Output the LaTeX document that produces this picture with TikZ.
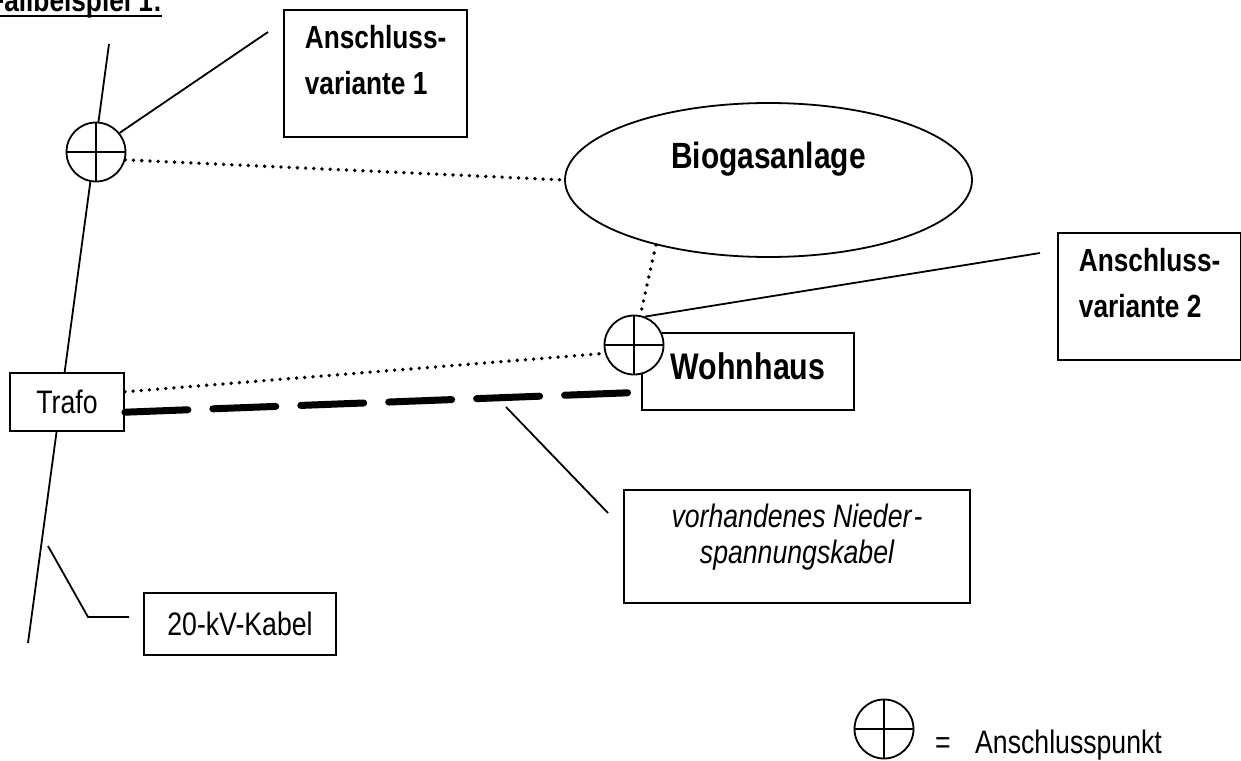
\documentclass[tikz,border=0pt]{standalone}
\usepackage{fontspec}
\setmainfont{Liberation Sans}[FakeStretch=0.82]
\usetikzlibrary{shapes.geometric}

\tikzset{
  duenn/.style={line width=1.8pt},
  kasten/.style={draw, line width=1.8pt, fill=white},
  varbox/.style={kasten, anchor=north west, align=left, inner xsep=21pt,
    inner ysep=15.6pt, text depth=26.4pt,
    font=\fontsize{32}{46}\selectfont\bfseries},
  hinweis/.style={kasten, font=\fontsize{32.5}{36}\selectfont},
  apunkt/.style={circle, draw, line width=1.8pt, fill=white, minimum size=59pt,
    inner sep=0pt,
    path picture={\draw[line width=1.8pt]
      (path picture bounding box.north) -- (path picture bounding box.south)
      (path picture bounding box.west) -- (path picture bounding box.east);}},
  punktlinie/.style={line width=3.8pt, line cap=round, dash pattern=on 0pt off 8.2pt},
  nskabel/.style={line width=7pt, line cap=round, dash pattern=on 63pt off 25pt}
}

\begin{document}
\begin{tikzpicture}[x=1pt,y=-1pt]
  \useasboundingbox (0,0) rectangle (1241,760);

  % Ueberschrift
  \node[anchor=base east, inner sep=0pt, font=\fontsize{32}{36}\selectfont\bfseries]
    (titel) at (162,12) {Fallbeispiel 1:};
  \draw[line width=2.3pt] ([yshift=-4pt]titel.base west) -- ([yshift=-4pt]titel.base east);

  % 20-kV-Kabel
  \coordinate (ctop) at (109,44);
  \coordinate (cbot) at (28,643);
  \draw[duenn] (ctop) -- (cbot);

  \node[apunkt] (ap1) at (96,152) {};
  \node[hinweis, minimum width=114pt, minimum height=58pt, inner sep=0pt] (trafo) at (67,402) {Trafo};
  \node[hinweis, minimum width=192pt, minimum height=62pt, inner sep=0pt] (kabel) at (240,624) {20-kV-Kabel};

  \node[varbox] (var1) at (283,9) {Anschluss-\\variante 1};
  \node[varbox] (var2) at (1057,232) {Anschluss-\\variante 2};

  \node[draw, ellipse, line width=1.8pt, minimum width=407pt, minimum height=154pt,
    inner sep=0pt, text depth=50pt, font=\fontsize{36.5}{40}\selectfont\bfseries]
    (bio) at (768.5,180) {Biogasanlage};

  \node[kasten, minimum width=212pt, minimum height=77pt, inner sep=0pt, text depth=10pt,
    font=\fontsize{37}{40}\selectfont\bfseries] (wohn) at (748,371.5) {Wohnhaus};
  \node[apunkt] (ap2) at (634,345) {};

  \node[hinweis, minimum width=346pt, minimum height=113pt, inner sep=0pt, align=center,
    text depth=26pt, font=\fontsize{32.5}{36}\selectfont\itshape]
    (nskasten) at (797,546.5) {vorhandenes Nieder\kern2pt-\\spannungskabel};

  % Verbindungen
  \draw[punktlinie] (ap1.-15) -- (bio.west);
  \draw[punktlinie] (trafo.10) -- (ap2.196);
  \draw[punktlinie] (bio.210) -- (ap2.78);
  \draw[nskabel] (trafo.-10) -- (wohn.191);

  % Hinweislinien
  \coordinate (v1end) at (268,32);
  \coordinate (v2end) at (1040,253);
  \coordinate (nsA) at (506,407);
  \coordinate (nsB) at (608,513);
  \coordinate (kvA) at (48,546);
  \coordinate (kvB) at (88,617);
  \coordinate (kvC) at (129,617);
  \draw[duenn] (ap1.39) -- (v1end);
  \draw[duenn] (ap2.69) -- (v2end);
  \draw[duenn] (nsA) -- (nsB);
  \draw[duenn] (kvA) -- (kvB) -- (kvC);

  % Legende
  \node[apunkt] (ap3) at (884,729) {};
  \node[anchor=base, inner sep=0pt, font=\fontsize{32.5}{36}\selectfont] (gleich) at (943,753) {=};
  \node[anchor=base west, inner sep=0pt, font=\fontsize{32.5}{36}\selectfont] (legtext) at (975,753) {Anschlusspunkt};
\end{tikzpicture}
\end{document}
